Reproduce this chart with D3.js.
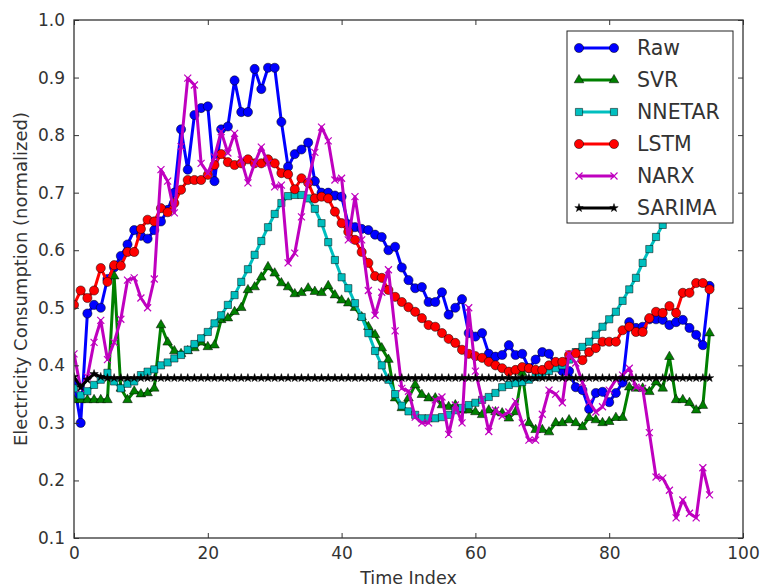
<!DOCTYPE html>
<html><head><meta charset="utf-8">
<script src="https://cdn.jsdelivr.net/npm/d3@7"></script>
<style>html,body{margin:0;padding:0;background:#fff;}svg{display:block;font-family:"DejaVu Sans",sans-serif;}</style>
</head><body><svg id="c" width="760" height="587"></svg>
<script>
const xTicks = [0,20,40,60,80,100];
const yTicks = [0.1,0.2,0.3,0.4,0.5,0.6,0.7,0.8,0.9,1.0];
const seriesNames = ["Raw","SVR","NNETAR","LSTM","NARX","SARIMA"];
const seriesColors = ["#0000ff","#008000","#00bfbf","#ff0000","#bf00bf","#000000"];
const seriesMarkers = ["circle","triangle","square","circle","x","star"];

const raw = [0.37,0.30,0.49,0.505,0.50,0.55,0.57,0.59,0.61,0.635,
0.625,0.62,0.635,0.65,0.67,0.70,0.81,0.74,0.835,0.847,
0.85,0.72,0.81,0.815,0.895,0.84,0.84,0.915,0.88,0.917,
0.917,0.823,0.745,0.767,0.775,0.787,0.72,0.70,0.70,0.695,
0.693,0.645,0.64,0.637,0.635,0.627,0.623,0.60,0.606,0.57,
0.548,0.534,0.536,0.51,0.51,0.527,0.488,0.50,0.515,0.456,
0.45,0.456,0.42,0.415,0.418,0.435,0.418,0.42,0.395,0.41,
0.423,0.42,0.40,0.39,0.39,0.362,0.357,0.324,0.352,0.354,
0.336,0.352,0.37,0.475,0.465,0.467,0.48,0.48,0.479,0.47,
0.475,0.479,0.465,0.453,0.435,0.538];

const svr = [0.34,0.34,0.34,0.34,0.34,0.34,0.555,0.36,0.34,0.355,
0.35,0.352,0.36,0.47,0.44,0.425,0.42,0.425,0.43,0.44,
0.432,0.435,0.479,0.482,0.493,0.50,0.531,0.536,0.553,0.571,
0.56,0.543,0.536,0.524,0.526,0.534,0.528,0.526,0.538,0.522,
0.513,0.508,0.50,0.484,0.467,0.453,0.43,0.41,0.343,0.326,
0.343,0.366,0.349,0.343,0.343,0.331,0.328,0.331,0.322,0.322,
0.319,0.314,0.322,0.319,0.317,0.308,0.319,0.387,0.30,0.288,
0.288,0.284,0.30,0.30,0.305,0.30,0.293,0.309,0.305,0.30,
0.302,0.309,0.309,0.362,0.36,0.36,0.354,0.371,0.36,0.415,
0.34,0.34,0.335,0.322,0.33,0.456];

const nnetar = [0.36,0.348,0.355,0.366,0.375,0.387,0.372,0.36,0.368,0.372,
0.383,0.389,0.393,0.40,0.405,0.412,0.418,0.427,0.437,0.447,
0.458,0.473,0.487,0.505,0.522,0.545,0.567,0.592,0.616,0.64,
0.663,0.682,0.694,0.696,0.696,0.69,0.672,0.647,0.614,0.583,
0.553,0.534,0.508,0.484,0.456,0.425,0.40,0.375,0.35,0.33,
0.32,0.314,0.308,0.308,0.308,0.31,0.314,0.322,0.326,0.331,
0.335,0.34,0.345,0.352,0.362,0.366,0.369,0.371,0.375,0.38,
0.385,0.39,0.395,0.40,0.41,0.423,0.432,0.441,0.453,0.467,
0.48,0.493,0.512,0.532,0.552,0.578,0.602,0.623,0.644,0.665,
0.69,0.715,0.74,0.765,0.79,0.815];

const lstm = [0.505,0.53,0.517,0.53,0.569,0.545,0.574,0.573,0.597,0.597,
0.637,0.653,0.65,0.673,0.666,0.682,0.705,0.722,0.722,0.722,
0.731,0.748,0.767,0.753,0.748,0.751,0.758,0.751,0.751,0.758,
0.751,0.734,0.732,0.706,0.725,0.717,0.69,0.693,0.69,0.667,
0.647,0.632,0.618,0.597,0.578,0.555,0.552,0.531,0.519,0.51,
0.501,0.493,0.482,0.47,0.467,0.456,0.446,0.439,0.427,0.42,
0.416,0.413,0.406,0.40,0.395,0.389,0.392,0.397,0.395,0.392,
0.392,0.40,0.406,0.406,0.418,0.421,0.409,0.423,0.43,0.441,
0.441,0.441,0.461,0.467,0.458,0.458,0.482,0.493,0.491,0.503,
0.491,0.526,0.526,0.543,0.543,0.532];

const narx = [0.42,0.36,0.38,0.44,0.478,0.41,0.44,0.48,0.548,0.552,
0.517,0.50,0.55,0.74,0.72,0.665,0.78,0.899,0.887,0.751,
0.734,0.762,0.806,0.769,0.803,0.757,0.717,0.751,0.779,0.751,
0.71,0.713,0.578,0.595,0.658,0.72,0.77,0.814,0.79,0.722,
0.725,0.618,0.693,0.618,0.53,0.487,0.527,0.566,0.46,0.36,
0.355,0.31,0.30,0.30,0.34,0.345,0.28,0.331,0.30,0.50,
0.39,0.34,0.285,0.322,0.312,0.319,0.337,0.30,0.27,0.27,
0.315,0.357,0.35,0.335,0.42,0.404,0.37,0.336,0.319,0.328,
0.357,0.375,0.383,0.395,0.362,0.36,0.283,0.206,0.204,0.183,
0.135,0.166,0.143,0.135,0.222,0.175];

const sarima = [0.38,0.362,0.375,0.385,0.38,0.378,0.378,0.378,0.378,0.378,
0.378,0.378,0.378,0.378,0.378,0.378,0.378,0.378,0.378,0.378,
0.378,0.378,0.378,0.378,0.378,0.378,0.378,0.378,0.378,0.378,
0.378,0.378,0.378,0.378,0.378,0.378,0.378,0.378,0.378,0.378,
0.378,0.378,0.378,0.378,0.378,0.378,0.378,0.378,0.378,0.378,
0.378,0.378,0.378,0.378,0.378,0.378,0.378,0.378,0.378,0.378,
0.378,0.378,0.378,0.378,0.378,0.378,0.378,0.378,0.378,0.378,
0.378,0.378,0.378,0.378,0.378,0.378,0.378,0.378,0.378,0.378,
0.378,0.378,0.378,0.378,0.378,0.378,0.378,0.378,0.378,0.378,
0.378,0.378,0.378,0.378,0.378,0.378];

const allSeries = [raw, svr, nnetar, lstm, narx, sarima];

const L = 74, R = 743, T = 20, B = 538;
const svg = d3.select("#c");
const x = d3.scaleLinear().domain([0,100]).range([L,R]);
const y = d3.scaleLinear().domain([0.1,1.0]).range([B,T]);

svg.append("defs").append("clipPath").attr("id","clip")
  .append("rect").attr("x",L).attr("y",T).attr("width",R-L).attr("height",B-T);

function markerPath(kind){
  if(kind==="circle") return d3.symbol(d3.symbolCircle, 66)();
  if(kind==="square") return d3.symbol(d3.symbolSquare, 52)();
  if(kind==="triangle") return d3.symbol(d3.symbolTriangle, 40)();
  if(kind==="star") return d3.symbol(d3.symbolStar, 22)();
  if(kind==="x") return "M-3.5,-3.5L3.5,3.5M-3.5,3.5L3.5,-3.5";
}

const plot = svg.append("g").attr("clip-path","url(#clip)");
const line = d3.line().x((d,i)=>x(i)).y(d=>y(d));

allSeries.forEach((data,k)=>{
  const g = plot.append("g");
  g.append("path").datum(data).attr("d",line)
    .attr("fill","none").attr("stroke",seriesColors[k]).attr("stroke-width",3)
    .attr("stroke-linejoin","round");
  const kind = seriesMarkers[k];
  g.selectAll("path.m").data(data).enter().append("path").attr("class","m")
    .attr("transform",(d,i)=>`translate(${x(i)},${y(d)})`)
    .attr("d",markerPath(kind))
    .attr("fill", kind==="x" ? "none" : seriesColors[k])
    .attr("stroke", kind==="x" ? seriesColors[k] : "#000")
    .attr("stroke-width", kind==="x" ? 1.2 : 0.5);
});

// axes with inward ticks
const tickLen = 5;
const ax = svg.append("g");
const xb = ax.append("g").attr("transform",`translate(0,${B})`)
  .call(d3.axisBottom(x).tickValues(xTicks).tickSizeInner(-tickLen).tickSizeOuter(0).tickPadding(9).tickFormat(d3.format("d")));
const xt = ax.append("g").attr("transform",`translate(0,${T})`)
  .call(d3.axisTop(x).tickValues(xTicks).tickSizeInner(-tickLen).tickSizeOuter(0).tickFormat(""));
const yl = ax.append("g").attr("transform",`translate(${L},0)`)
  .call(d3.axisLeft(y).tickValues(yTicks).tickSizeInner(-tickLen).tickSizeOuter(0).tickPadding(9).tickFormat(d3.format(".1f")));
const yr = ax.append("g").attr("transform",`translate(${R},0)`)
  .call(d3.axisRight(y).tickValues(yTicks).tickSizeInner(-tickLen).tickSizeOuter(0).tickFormat(""));
[xb,xt,yl,yr].forEach(g=>{
  g.select(".domain").remove();
  g.selectAll("line").attr("stroke","#333");
  g.selectAll("text").attr("font-size",17).attr("fill","#333").attr("font-family","DejaVu Sans");
});
ax.append("rect").attr("x",L).attr("y",T).attr("width",R-L).attr("height",B-T)
  .attr("fill","none").attr("stroke","#333").attr("stroke-width",1.3);

svg.append("text").attr("x",(L+R)/2).attr("y",584).attr("text-anchor","middle")
  .attr("font-size",17.5).attr("fill","#333").text("Time Index");
svg.append("text").attr("transform",`translate(27,${(T+B)/2}) rotate(-90)`).attr("text-anchor","middle")
  .attr("font-size",18).attr("fill","#333").text("Electricity Consumption (normalized)");

// legend
const lg = svg.append("g");
const lx = 567, ly = 31, lw = 166, lh = 192;
lg.append("rect").attr("x",lx).attr("y",ly).attr("width",lw).attr("height",lh)
  .attr("fill","#fff").attr("stroke","#222").attr("stroke-width",1);
const rowY = d3.scalePoint().domain(seriesNames).range([ly+17, ly+lh-15]);
seriesNames.forEach((nm,k)=>{
  const yy = rowY(nm);
  lg.append("line").attr("x1",579).attr("x2",614).attr("y1",yy).attr("y2",yy)
    .attr("stroke",seriesColors[k]).attr("stroke-width",3);
  [579,614].forEach(px=>{
    const kind = seriesMarkers[k];
    lg.append("path").attr("transform",`translate(${px},${yy})`).attr("d",markerPath(kind))
      .attr("fill", kind==="x" ? "none" : seriesColors[k])
      .attr("stroke", kind==="x" ? seriesColors[k] : "#000")
      .attr("stroke-width", kind==="x" ? 1.2 : 0.5);
  });
  lg.append("text").attr("x",637).attr("y",yy).attr("dy","0.36em")
    .attr("font-size",20.5).attr("fill","#333").text(nm);
});
</script></body></html>
